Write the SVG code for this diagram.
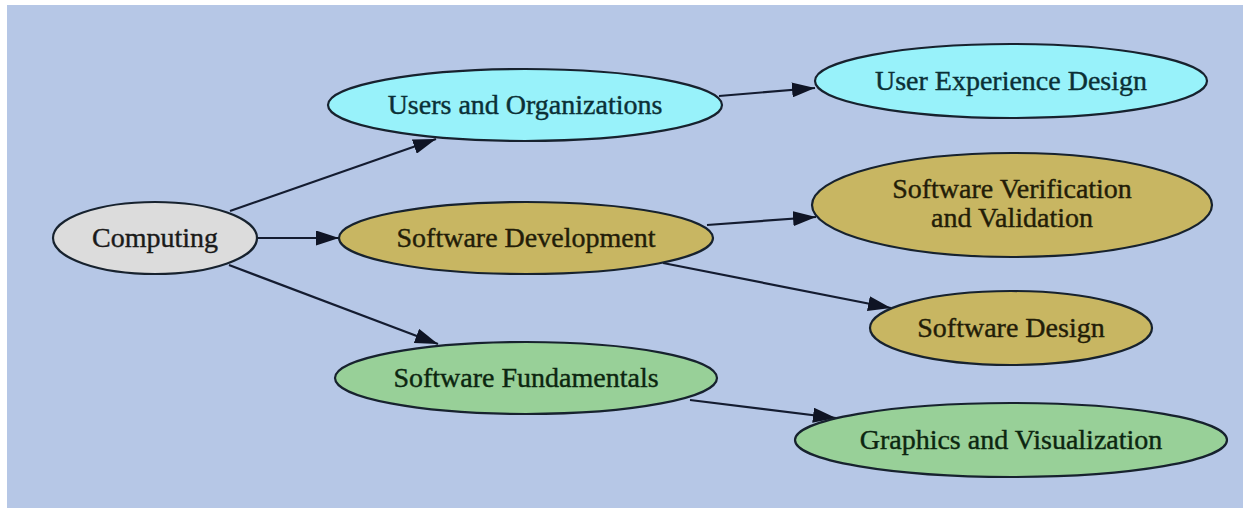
<svg xmlns="http://www.w3.org/2000/svg" width="1249" height="508" viewBox="0 0 1249 508">
<style>
.node ellipse{stroke:#17222e;stroke-width:2.2}
.node text{font-family:"Liberation Serif","Times New Roman",serif;font-size:28px;text-anchor:middle;stroke-width:0.4}
.gray ellipse{fill:#dcdcdc}.gray text{fill:#1a1a1a;stroke:#1a1a1a}
.cyan ellipse{fill:#98f2fa}.cyan text{fill:#0b3036;stroke:#0b3036}
.olive ellipse{fill:#c8b662}.olive text{fill:#231d08;stroke:#231d08}
.green ellipse{fill:#98d098}.green text{fill:#0c2610;stroke:#0c2610}
.edge{stroke:#141c30;stroke-width:2.2;fill:none;marker-end:url(#arr)}
</style>
<defs>
<marker id="arr" markerUnits="userSpaceOnUse" markerWidth="23" markerHeight="15" refX="23" refY="7.5" orient="auto">
<path d="M0,0 L23,7.5 L0,15 Z" fill="#0f1424"/>
</marker>
</defs>
<rect x="0" y="0" width="1249" height="508" fill="#ffffff"/>
<rect x="7" y="5" width="1236" height="503" fill="#b6c7e6"/>
<g id="edges">
<line class="edge" x1="230" y1="211" x2="436" y2="139"/>
<line class="edge" x1="257" y1="238" x2="339" y2="238"/>
<line class="edge" x1="229" y1="265" x2="438" y2="344"/>
<line class="edge" x1="719" y1="96" x2="815" y2="88"/>
<line class="edge" x1="707" y1="225" x2="816" y2="217"/>
<line class="edge" x1="663" y1="263" x2="891" y2="308"/>
<line class="edge" x1="690" y1="400" x2="836" y2="418"/>
</g>
<g id="computing" class="node gray"><ellipse cx="155" cy="238" rx="102" ry="36"/><text x="155" y="247">Computing</text></g>
<g id="users" class="node cyan"><ellipse cx="525" cy="105" rx="197" ry="36"/><text x="525" y="114">Users and Organizations</text></g>
<g id="uxd" class="node cyan"><ellipse cx="1011" cy="81" rx="196" ry="37"/><text x="1011" y="90">User Experience Design</text></g>
<g id="swdev" class="node olive"><ellipse cx="526" cy="238" rx="187" ry="36"/><text x="526" y="247">Software Development</text></g>
<g id="svv" class="node olive"><ellipse cx="1012" cy="205" rx="200" ry="52"/><text x="1012" y="198">Software Verification</text><text x="1012" y="227">and Validation</text></g>
<g id="swdesign" class="node olive"><ellipse cx="1011" cy="328" rx="141" ry="37"/><text x="1011" y="337">Software Design</text></g>
<g id="swfund" class="node green"><ellipse cx="526" cy="378" rx="191" ry="36"/><text x="526" y="387">Software Fundamentals</text></g>
<g id="graphics" class="node green"><ellipse cx="1011" cy="440" rx="216" ry="37"/><text x="1011" y="449">Graphics and Visualization</text></g>
</svg>
